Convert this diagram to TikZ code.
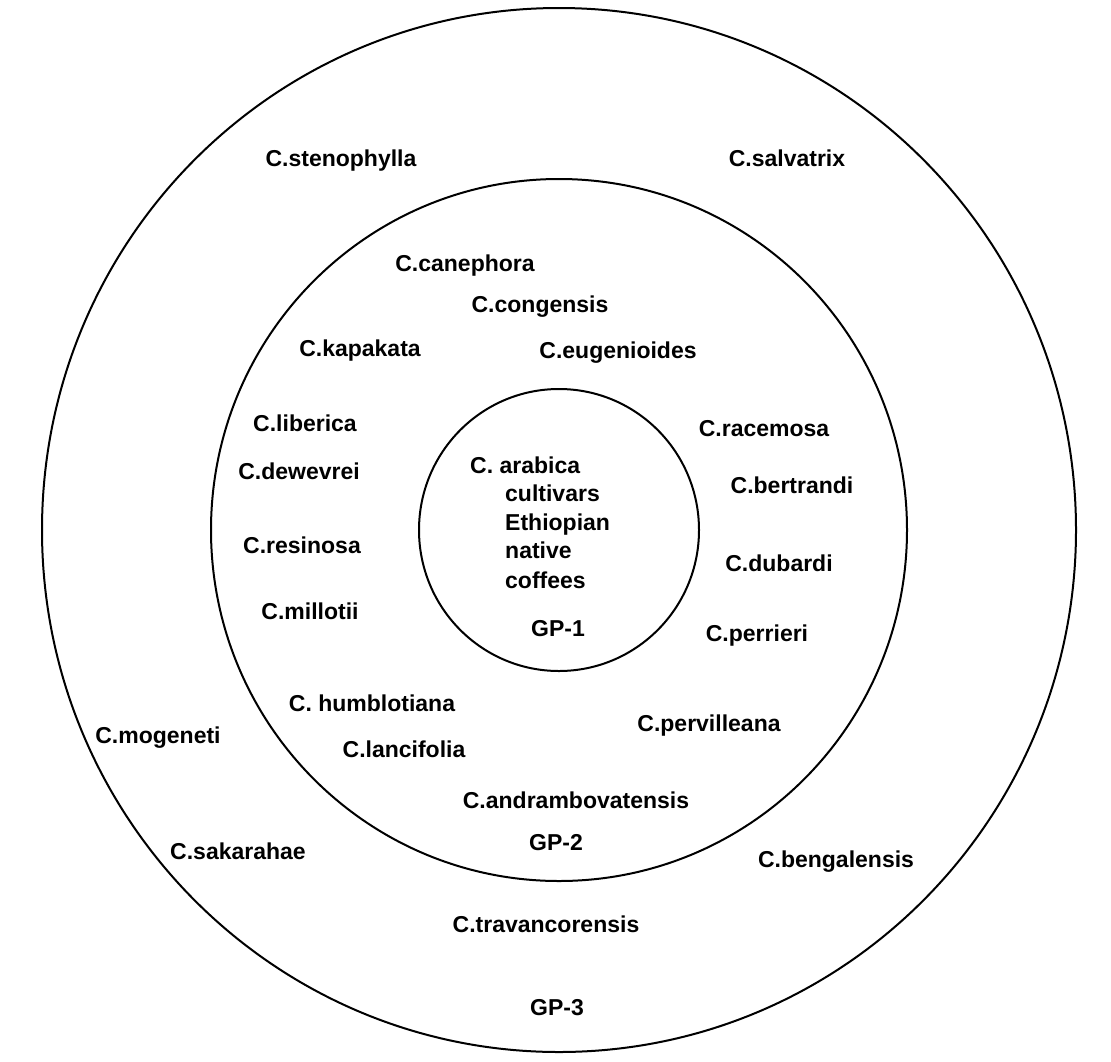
\documentclass[tikz,border=0pt]{standalone}
\usepackage{fontspec}
\setmainfont{Liberation Sans}
\begin{document}
\begin{tikzpicture}[x=1pt,y=-1pt,
  ring/.style={draw=black,line width=2pt},
  lbl/.style={font=\fontsize{23}{27}\selectfont\bfseries,inner sep=0pt,text=black,anchor=base},
  lblw/.style={lbl,anchor=base west}]
\useasboundingbox (0,0) rectangle (1111,1061);
\fill[white] (0,0) rectangle (1111,1061);
\coordinate (c) at (559,530);
\draw[ring] (c) ellipse [x radius=517pt, y radius=522pt];
\draw[ring] (c) ellipse [x radius=348pt, y radius=351pt];
\draw[ring] (c) ellipse [x radius=140pt, y radius=141pt];
% outer ring
\node[lbl] (steno) at (341,166) {C.stenophylla};
\node[lbl] (salv) at (787,166) {C.salvatrix};
\node[lbl] (mog) at (158,743) {C.mogeneti};
\node[lbl] (sak) at (238,859) {C.sakarahae};
\node[lbl] (beng) at (836,867) {C.bengalensis};
\node[lbl] (trav) at (546,932) {C.travancorensis};
\node[lbl] (gp3) at (557,1015) {GP-3};
% middle ring
\node[lbl] (cane) at (465,271) {C.canephora};
\node[lbl] (cong) at (540,312) {C.congensis};
\node[lbl] (kapa) at (360,356) {C.kapakata};
\node[lbl] (eug) at (618,358) {C.eugenioides};
\node[lbl] (lib) at (305,431) {C.liberica};
\node[lbl] (race) at (764,436) {C.racemosa};
\node[lbl] (dew) at (299,479) {C.dewevrei};
\node[lbl] (bert) at (792,493) {C.bertrandi};
\node[lbl] (resi) at (302,553) {C.resinosa};
\node[lbl] (dub) at (779,571) {C.dubardi};
\node[lbl] (mill) at (310,619) {C.millotii};
\node[lbl] (perr) at (757,641) {C.perrieri};
\node[lbl] (humb) at (372,711) {C. humblotiana};
\node[lbl] (perv) at (709,731) {C.pervilleana};
\node[lbl] (lanc) at (404,757) {C.lancifolia};
\node[lbl] (andr) at (576,808) {C.andrambovatensis};
\node[lbl] (gp2) at (556,850) {GP-2};
% inner circle
\node[lblw] (arab) at (470,473) {C. arabica};
\node[lblw] (cult) at (505,501) {cultivars};
\node[lblw] (eth) at (505,530) {Ethiopian};
\node[lblw] (nat) at (505,558) {native};
\node[lblw] (cof) at (505,588) {coffees};
\node[lbl] (gp1) at (558,636) {GP-1};
\end{tikzpicture}
\end{document}
